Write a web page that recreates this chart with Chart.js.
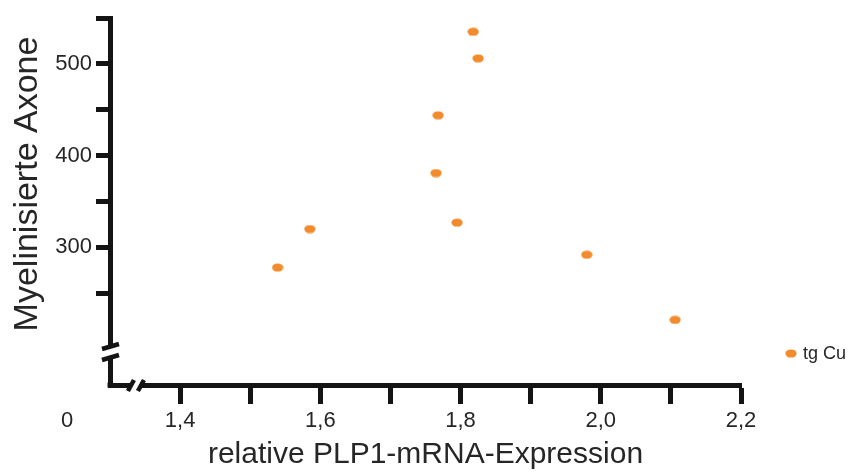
<!DOCTYPE html>
<html>
<head>
<meta charset="utf-8">
<script src="https://cdn.jsdelivr.net/npm/chart.js@4"></script>
<style>
  html, body { margin: 0; padding: 0; background: #fff; }
  #wrap { width: 858px; height: 475px; }
</style>
</head>
<body>
<div id="wrap"><canvas id="scatter_chart"></canvas></div>
<script>
//--------------------------------------------------------------------------------
//--- Input data
//--------------------------------------------------------------------------------

var seriesName = 'tg Cu';
var xTitle = 'relative PLP1-mRNA-Expression';
var yTitle = 'Myelinisierte Axone';
var plp1Expression = [1.818, 1.825, 1.768, 1.765, 1.795, 1.585, 1.539, 1.980, 2.106];
var myelinatedAxons = [535, 506, 444, 381, 327, 320, 278, 292, 221];

var xTickValues = [1.4, 1.5, 1.6, 1.7, 1.8, 1.9, 2.0, 2.1, 2.2];
var xTickLabels = ['1,4', '', '1,6', '', '1,8', '', '2,0', '', '2,2'];
var yTickValues = [250, 300, 350, 400, 450, 500, 550];
var yTickLabels = ['', '300', '', '400', '', '500', ''];

var xBreakAt = 1.337;
var yBreakAt = 186;

//----------------------------------------
//--- Helpers
//----------------------------------------

var ORANGE = '#F28B2C';
var INK = '#141414';
var TEXT = '#262626';
var FONT = '"Liberation Sans", Arial, sans-serif';
Chart.defaults.font.family = FONT;

function makeDot() {
    var c = document.createElement('canvas');
    c.width = 12; c.height = 9;
    var g = c.getContext('2d');
    g.fillStyle = ORANGE;
    g.beginPath();
    g.ellipse(6, 4.5, 5.6, 4.1, 0, 0, Math.PI * 2);
    g.fill();
    return c;
}
var dot = makeDot();

var points = plp1Expression.map(function (x, i) { return {x: x, y: myelinatedAxons[i]}; });

// axis breaks, y title, origin label and the small legend on the right
var extras = {
    id: 'extras',
    afterDraw: function (chart) {
        var ctx = chart.ctx;
        var area = chart.chartArea;
        var yb = chart.scales.y.getPixelForValue(yBreakAt);
        var xb = chart.scales.x.getPixelForValue(xBreakAt);
        ctx.save();
        // corner
        ctx.fillStyle = INK;
        ctx.fillRect(area.left - 2.5, area.bottom - 2.5, 5, 5);
        // gaps
        ctx.fillStyle = '#fff';
        ctx.fillRect(area.left - 4, yb - 5, 8, 10);
        ctx.fillRect(xb - 6, area.bottom - 4, 12, 8);
        // slashes
        ctx.strokeStyle = INK;
        ctx.lineWidth = 4.5;
        [-5.5, 5.5].forEach(function (d) {
            ctx.beginPath();
            ctx.moveTo(area.left - 8, yb + d + 2.5);
            ctx.lineTo(area.left + 9, yb + d - 2.5);
            ctx.stroke();
        });
        [-5, 5].forEach(function (d) {
            ctx.beginPath();
            ctx.moveTo(xb + d - 3, area.bottom + 6);
            ctx.lineTo(xb + d + 3, area.bottom - 5);
            ctx.stroke();
        });
        // y title
        ctx.fillStyle = TEXT;
        ctx.textAlign = 'center';
        ctx.textBaseline = 'middle';
        ctx.save();
        ctx.translate(28, 184);
        ctx.rotate(-Math.PI / 2);
        ctx.font = '34px ' + FONT;
        ctx.fillText(yTitle, 0, 0);
        ctx.restore();
        // origin label
        ctx.font = '22px ' + FONT;
        ctx.fillText('0', 67, 421);
        // legend
        ctx.drawImage(dot, 785, 349);
        ctx.font = '18px ' + FONT;
        ctx.textAlign = 'left';
        ctx.fillText(seriesName, 803, 354);
        ctx.restore();
    }
};

//----------------------------------------
//--- Scatter chart
//----------------------------------------

var scatter_chart = new Chart(document.getElementById('scatter_chart').getContext('2d'), {
    type: 'scatter',
    data: {
        datasets: [{
            label: seriesName, data: points,
            pointStyle: dot, pointRadius: 5, pointHoverRadius: 5,
            backgroundColor: ORANGE, borderColor: ORANGE
        }]
    },
    options: {
        responsive: true, maintainAspectRatio: false, animation: false,
        layout: {padding: {top: 18, right: 117, bottom: 0, left: 0}},
        plugins: {
            legend: {display: false},
            tooltip: {enabled: false}
        },
        scales: {
            x: {
                type: 'linear', min: 1.3, max: 2.2,
                afterFit: function (s) { s.height = 90; },
                afterBuildTicks: function (s) { s.ticks = xTickValues.map(function (v) { return {value: v}; }); },
                ticks: {
                    autoSkip: false, maxRotation: 0, padding: 4, color: TEXT, font: {size: 22},
                    callback: function (v, i) { return xTickLabels[i]; }
                },
                grid: {drawOnChartArea: false, drawTicks: true, tickLength: 19, tickWidth: 5, tickColor: INK},
                border: {display: true, width: 5, color: INK},
                title: {display: true, text: xTitle, color: TEXT,
                        font: {size: 30}, padding: {top: 0, bottom: 2}}
            },
            y: {
                type: 'linear', min: 150, max: 550,
                afterFit: function (s) { s.width = 110; },
                afterBuildTicks: function (s) { s.ticks = yTickValues.map(function (v) { return {value: v}; }); },
                ticks: {
                    autoSkip: false, padding: 4, color: TEXT, font: {size: 22},
                    callback: function (v, i) { return yTickLabels[i]; }
                },
                grid: {drawOnChartArea: false, drawTicks: true, tickLength: 14, tickWidth: 5, tickColor: INK},
                border: {display: true, width: 5, color: INK},
                title: {display: false}
            }
        }
    },
    plugins: [extras]
});
</script>
</body>
</html>
